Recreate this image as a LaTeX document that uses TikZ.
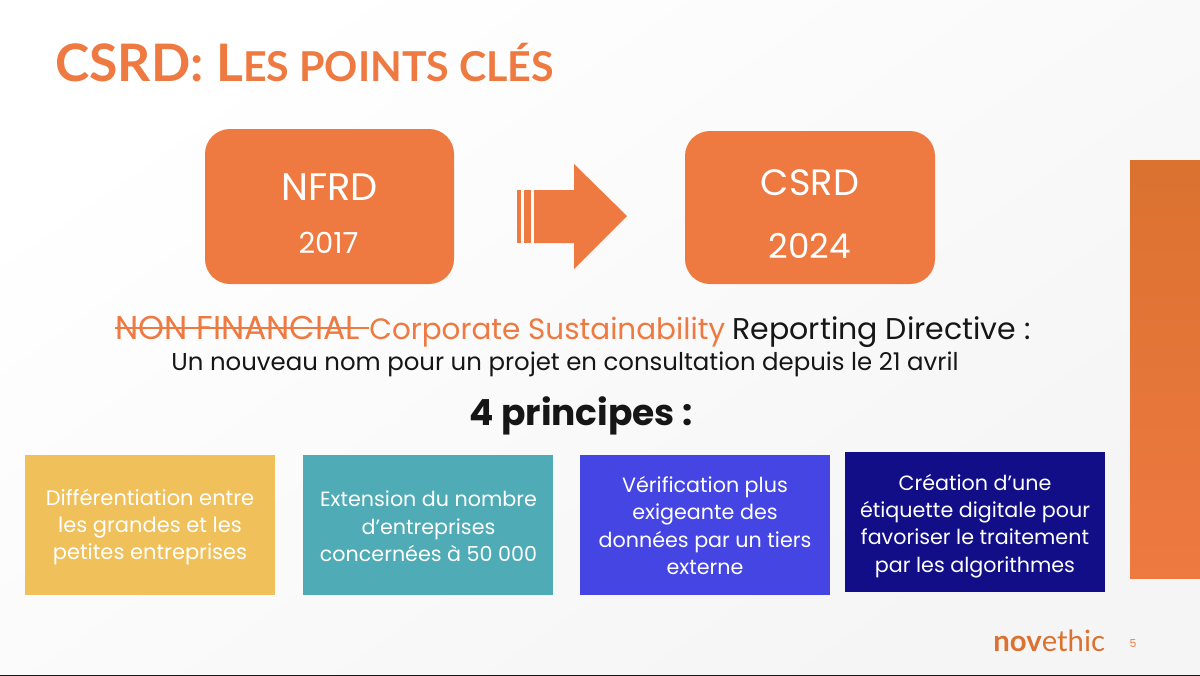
\documentclass[tikz,border=0pt]{standalone}
\usepackage{fontspec}
\setmainfont{Poppins}
\newfontfamily\titlefont{Lato}
\definecolor{orng}{HTML}{EE7941}
\definecolor{orngd}{HTML}{DB7230}
\definecolor{yel}{HTML}{F0C05A}
\definecolor{teal2}{HTML}{4FABB5}
\definecolor{blu}{HTML}{4545E4}
\definecolor{navy2}{HTML}{120E88}
\definecolor{ink}{HTML}{161616}
\newsavebox{\strkbox}
\newcommand{\strk}[1]{\sbox{\strkbox}{#1}\rlap{\rule[0.29em]{\wd\strkbox}{0.07em}}\usebox{\strkbox}}
\tikzset{
  px/.style={x=0.6pt,y=-0.6pt},
  bigbox/.style={fill=orng,draw=none,rounded corners=15pt},
  cardtxt/.style={align=center,text=white,font=\fontsize{12.4}{16.4}\selectfont,inner sep=0pt},
  boxtxt/.style={text=white,inner sep=0pt,anchor=center},
}
\begin{document}
\begin{tikzpicture}[px]
\useasboundingbox (0,0) rectangle (1200,676);
\shade[left color=white,right color=white!96!black,shading angle=35] (0,0) rectangle (1200,676);
\fill[ink] (0,674.5) rectangle (1200,676);
\shade[top color=orngd,bottom color=orng] (1130,160) rectangle (1200,578);
\node[anchor=base west,inner sep=0pt,text=orng,font=\titlefont\bfseries] (title) at (55,81)
  {\fontsize{31}{32}\selectfont CSRD: L\fontsize{24.7}{32}\selectfont ES POINTS CLÉS};
\fill[bigbox] (205,129) rectangle (454,284);
\fill[bigbox] (685,131) rectangle (935,284);
\node[boxtxt,font=\fontsize{23}{24}\selectfont] (nfrd) at (329.5,187) {NFRD};
\node[boxtxt,font=\fontsize{17.4}{20}\selectfont] (y2017) at (328.5,243) {2017};
\node[boxtxt,font=\fontsize{22}{24}\selectfont] (csrd) at (810,183) {CSRD};
\node[boxtxt,font=\fontsize{20.5}{24}\fontseries{m}\selectfont] (y2024) at (810,246) {2024};
\fill[orng] (517,190) rectangle (520.5,243);
\fill[orng] (524,190) rectangle (530.5,243);
\fill[orng] (534,190) -- (574,190) -- (574,164) -- (627,216) -- (574,269) -- (574,243) -- (534,243) -- cycle;
\node[inner sep=0pt,anchor=base west,font=\fontsize{19.8}{20}\selectfont,text=orng] (strike) at (115,339) {\strk{NON FINANCIAL}};
\node[inner sep=0pt,anchor=base west,font=\fontsize{17.65}{20}\selectfont,text=orng] (corp) at (369,339) {Corporate Sustainability};
\node[inner sep=0pt,anchor=base east,font=\fontsize{18}{20}\selectfont,text=ink] (name) at (1031,339) {Reporting Directive :};
\draw[orng,line width=1.4pt] (strike.east |- 0,328.3) -- (369,328.3);
\node[inner sep=0pt,anchor=base,text=ink,font=\fontsize{14.65}{18}\fontseries{m}\selectfont] (sub) at (565,370.5)
  {Un nouveau nom pour un projet en consultation depuis le 21 avril};
\node[inner sep=0pt,anchor=base,text=ink,font=\fontsize{21.6}{24}\bfseries\selectfont] (four) at (581,425) {4 principes :};
\fill[yel] (25,455) rectangle (275,595);
\fill[teal2] (303,455) rectangle (553,595);
\fill[blu] (580,455) rectangle (830,595);
\fill[navy2] (845,452) rectangle (1105,592);
\node[cardtxt,font=\fontsize{12.6}{16.4}\selectfont] (c1) at (150,527) {Différentiation entre\\les grandes et les\\petites entreprises};
\node[cardtxt] (c2) at (428.5,526.5) {Extension du nombre\\d’entreprises\\concernées à 50 000};
\node[cardtxt] (c3) at (705,525.5) {Vérification plus\\exigeante des\\données par un tiers\\externe};
\node[cardtxt] (c4) at (975,526) {Création d’une\\étiquette digitale pour\\favoriser le traitement\\par les algorithmes};
\node[inner sep=0pt,anchor=base west,text=orngd,font=\fontsize{17.6}{18}\selectfont] (logo) at (993,651)
  {\titlefont\textbf{nov}\fontseries{l}\selectfont ethic};
\node[inner sep=0pt,text=orng,font=\fontsize{6.5}{8}\selectfont] (page) at (1133,644) {5};
\end{tikzpicture}
\end{document}
